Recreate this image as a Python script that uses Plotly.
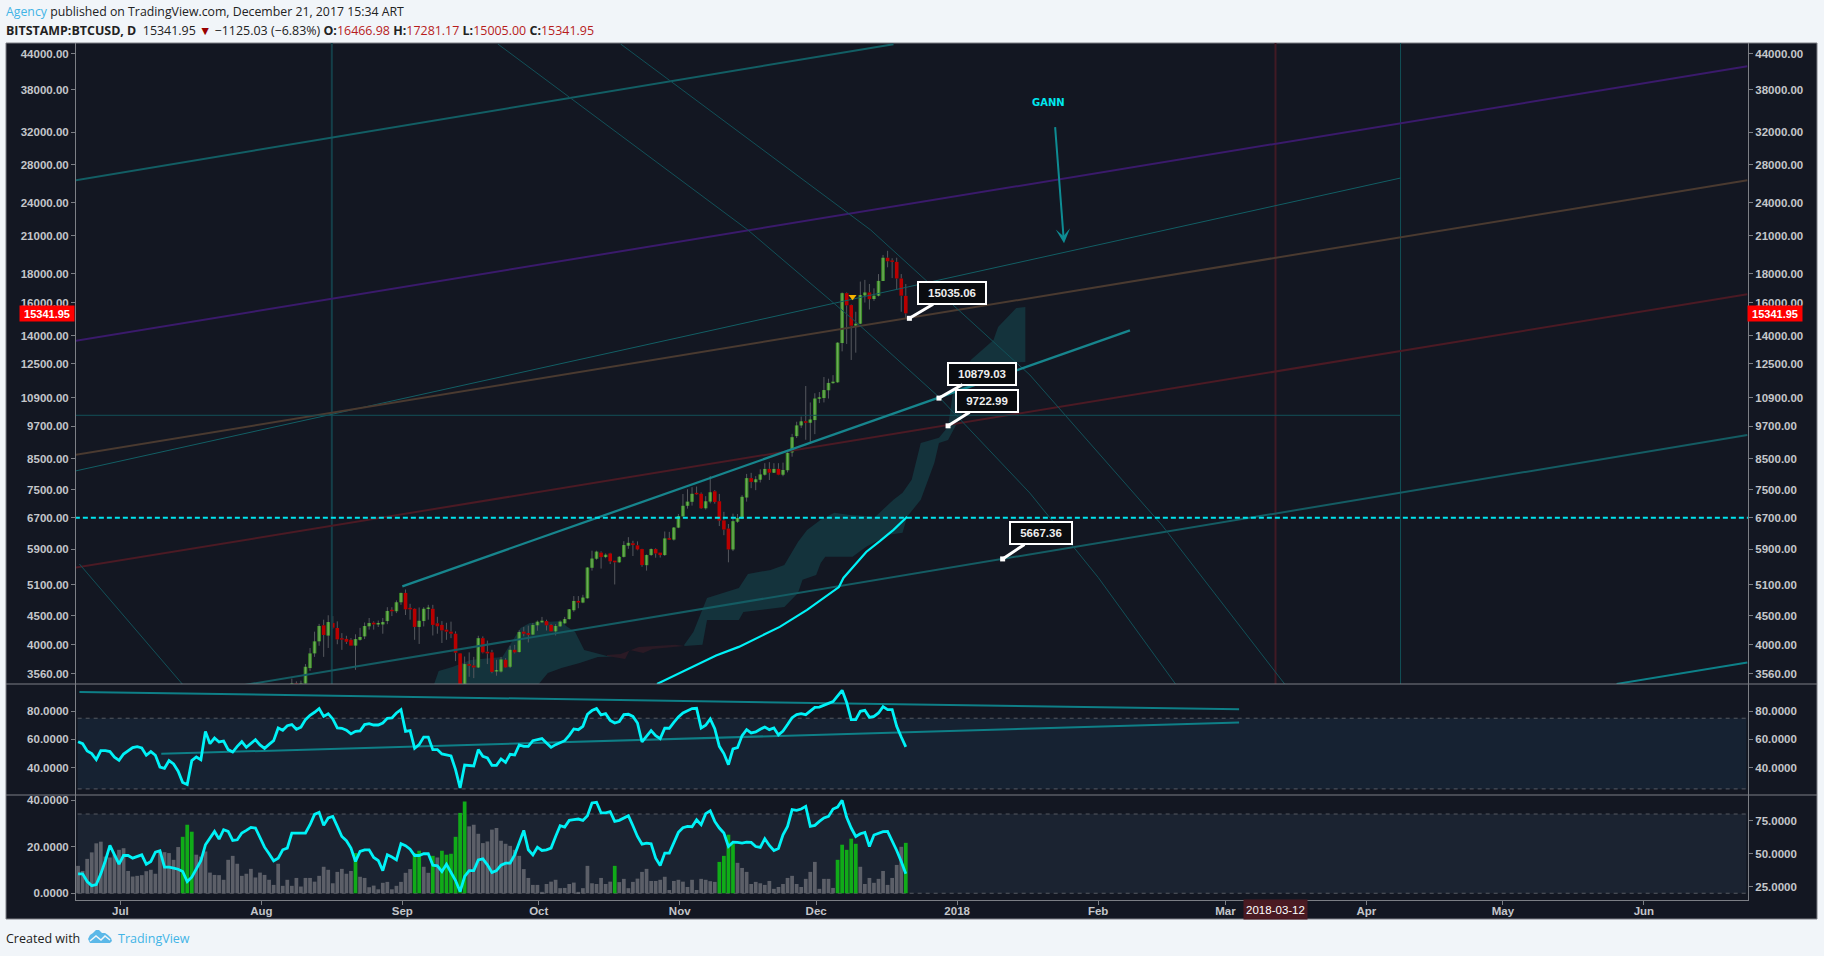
import math
import pandas as pd
import plotly.graph_objects as go

# ---------- price candles (BITSTAMP:BTCUSD daily) ----------
candle_start = "2017-08-08"
candle_open = [3300,3420,3340,3420,3640,3864,4057,4330,4153,4370,4283,4105,4098,4083,3988,4083,4140,4312,4376,4345,4346,4405,4590,4584,
 4754,4938,4630,4630,4302,4405,4625,4630,4365,4337,4254,4220,4185,3864,3230,3700,3678,3650,4110,3890,3880,3590,3590,3765,3660,3920,3885,4220,4196,4170,
 4330,4382,4405,4337,4225,4312,4365,4440,4603,4780,4748,4832,5468,5672,5814,5710,5795,5628,5590,5715,5980,6040,5988,5898,5525,5757,5898,5814,5757,6135,6130,
 6435,6735,7030,7145,7380,7380,6960,7150,7455,7160,6625,6410,5890,6590,6680,7270,7865,7735,7815,7975,8165,8040,8165,7975,8120,8730,9325,9740,9900,9845,
 9950,10850,10880,11230,11560,11600,13600,16650,15865,14590,14710,16500,16695,16260,16480,17490,19220,19000,18900,17670,16466.98]
candle_close = [3420,3340,3420,3660,3864,4057,4318,4164,4387,4288,4090,4085,4050,3988,4095,4130,4318,4370,4346,4352,4387,4590,4584,4754,
 4938,4620,4620,4302,4410,4630,4635,4337,4313,4242,4220,4185,3875,3240,3700,3675,3650,4110,3880,3864,3585,3600,3770,3650,3920,3880,4213,4185,4165,4337,
 4394,4412,4330,4225,4318,4394,4440,4620,4780,4748,4845,5473,5675,5838,5710,5765,5613,5590,5715,5995,6050,5995,5890,5530,5757,5898,5795,5757,6160,6128,6435,
 6745,7030,7150,7380,7365,6960,7160,7425,7140,6620,6385,5890,6605,6690,7290,7865,7745,7825,7985,8165,8040,8165,7975,8130,8710,9285,9740,9900,9845,9975,
 10860,10900,11240,11570,11630,13620,16650,15850,14590,14710,16520,16695,16250,16480,17500,19220,18950,18900,17670,16480,15341.95]
candle_high = [3490,3450,3460,3700,3950,4220,4355,4430,4510,4495,4400,4195,4150,4110,4175,4285,4380,4460,4400,4415,4460,4660,4660,4790,
 4945,5006,4725,4640,4655,4660,4705,4705,4482,4405,4375,4395,4225,3870,3815,3880,3810,4150,4140,4070,3920,3765,3810,3790,3985,4000,4245,4300,4325,4370,
 4415,4480,4430,4355,4350,4415,4480,4622,4875,4875,4900,5480,5860,5860,5845,5795,5810,5630,5735,6090,6190,6100,6085,5905,5770,5915,5915,5814,6335,6325,6450,
 6800,7375,7518,7580,7600,7420,7310,7928,7490,7377,6860,6530,6810,6800,7340,8000,8035,7928,8150,8355,8390,8355,8355,8375,8820,9410,9885,10095,11425,10690,
 11095,11150,11850,11770,11940,13650,16700,16700,15900,15440,17450,17570,17280,16980,17990,19440,19770,19180,19220,17990,17281.17]
candle_low = [3280,3300,3320,3400,3600,3810,3985,3810,3950,4270,4010,3920,4015,3985,3615,4070,4095,4255,4255,4300,4185,4350,4495,4550,
 4705,4515,4430,4083,4015,4310,4430,4155,4185,4030,4083,4110,3745,3150,2980,3515,3495,3640,3864,3700,3565,3530,3575,3645,3640,3864,3875,4140,4040,4160,
 4235,4370,4240,4220,4155,4300,4350,4430,4575,4640,4735,4825,5405,5650,5450,5685,5550,5110,5575,5700,5905,5735,5870,5490,5405,5735,5695,5700,5735,6122,6105,
 6420,6720,6950,7035,7350,6940,6925,7100,7090,6475,6240,5590,5850,6560,6660,7150,7550,7490,7727,7945,7805,8030,7960,7925,8050,8580,9252,9640,9190,9050,
 9400,10660,10690,10860,11540,11570,13150,13550,12700,13080,14680,16030,15580,16140,16430,17480,18490,17700,16930,15440,15005.00]

# ---------- Ichimoku-like cloud ----------
cloud_a_dates = ["2017-09-08","2017-09-09","2017-09-12","2017-09-16","2017-09-23","2017-09-25","2017-09-27","2017-09-29","2017-10-06","2017-10-07","2017-10-09","2017-10-11","2017-10-16","2017-10-19",
 "2017-10-16","2017-10-14","2017-10-10","2017-10-06","2017-10-03","2017-10-01"]
cloud_a_prices = [3414,3599,3657,3763,3809,4032,4285,4372,4408,4319,4216,3919,3824,3815,
 3805,3809,3718,3643,3570,3414]
cloud_b_dates = ["2017-11-02","2017-11-04","2017-11-07","2017-11-14","2017-11-16","2017-11-21","2017-11-24","2017-11-27","2017-11-29","2017-12-02","2017-12-05","2017-12-08","2017-12-14","2017-12-18","2017-12-20","2017-12-22","2017-12-24","2017-12-28","2017-12-30","2017-12-31","2018-01-04","2018-01-06","2018-01-09","2018-01-10","2018-01-12","2018-01-14","2018-01-16",
 "2018-01-16","2018-01-05","2018-01-03","2018-01-01","2017-12-30","2017-12-28","2017-12-27","2017-12-24","2017-12-21","2017-12-20","2017-12-17","2017-12-12","2017-12-09","2017-12-03","2017-12-02","2017-12-01","2017-11-28","2017-11-27","2017-11-24","2017-11-15","2017-11-14","2017-11-07","2017-11-06","2017-11-02"]
cloud_b_prices = [4000,4216,4839,5038,5334,5421,5532,6072,6376,6644,6835,6780,6725,7205,7413,7814,9073,9259,9682,11020,12700,13118,13772,14518,15058,15681,15745,
 12597,12545,10601,9839,9183,9073,8369,7205,6725,6300,6249,5952,5715,5715,5577,5312,5206,4938,4665,4571,4425,4425,4000,3983]
cloud_red_dates = ["2017-10-16","2017-10-19","2017-10-23","2017-10-31","2017-11-02","2017-10-26","2017-10-24","2017-10-21","2017-10-20","2017-10-16"]
cloud_red_prices = [3840,3856,3967,4000,3983,3935,3871,3919,3778,3824]

# ---------- slow moving average ----------
ma_dates = ["2017-10-27","2017-11-01","2017-11-05","2017-11-09","2017-11-14","2017-11-18","2017-11-23","2017-11-29","2017-12-03","2017-12-06","2017-12-07","2017-12-09","2017-12-12","2017-12-15","2017-12-18","2017-12-21"]
ma_prices = [3414,3570,3700,3830,3967,4110,4302,4608,4860,5057,5246,5480,5830,6090,6376,6725]

# ---------- hand-drawn trend lines ----------
top_x = ["2017-06-21","2017-12-18"];            top_y = [26307,45690]
purple_x = ["2017-06-21","2018-06-23 18:00"];   purple_y = [13718,41775]
thin_x = ["2017-06-21","2018-04-08 12:00"];     thin_y = [8092,26557]
brown_x = ["2017-06-21","2018-06-23 18:00"];    brown_y = [8641,26307]
darkred_x = ["2017-06-21","2018-06-23 18:00"];  darkred_y = [5468,16572]
bright_x = ["2017-09-01","2018-02-08"];         bright_y = [5072,14315]
low_x = ["2017-07-27","2018-06-23 18:00"];      low_y = [3385,9367]
corner_x = ["2018-05-26","2018-06-23 18:00"];   corner_y = [3414,3723]
arc_a_x = ["2017-09-22","2017-11-16","2017-12-10","2017-12-28","2018-01-17","2018-02-01","2018-02-18"]
arc_a_y = [45730,21507,14752,10926,7402,5259,3414]
arc_b_x = ["2017-10-19","2017-12-13","2018-01-17","2018-02-15","2018-03-14"]
arc_b_y = [45730,21507,11948,6503,3414]
arc_c_x = ["2017-06-22","2017-07-15"];          arc_c_y = [5552,3385]
flat_x = ["2017-06-21","2018-04-08 12:00"];     flat_y = [10147,10147]
level_x = ["2017-06-21","2018-06-23 21:00"];    level_y = [6700,6700]
vline_a = "2017-08-16 12:00"
vline_b = "2018-04-08 12:00"
vline_red = "2018-03-12"
vline_y = [3000,50000]

# ---------- callouts ----------
callout_dates = ["2017-12-21 12:00","2017-12-28","2017-12-30","2018-01-11"]
callout_prices = [15035.06,10879.03,9722.99,5667.36]
callout_text = ["15035.06","10879.03","9722.99","5667.36"]
last_price = 15341.95

# ---------- RSI pane ----------
rsi_values = [58.4,57.0,51.8,50.0,45.7,52.1,52.1,51.4,47.4,45.2,49.7,52.1,54.2,54.9,54.0,48.8,51.4,48.8,40.5,39.6,45.0,42.7,37.5,29.5,28.1,45.0,47.6,45.7,65.7,57.0,61.0,58.2,58.9,52.8,51.1,55.1,58.4,54.4,56.8,59.8,56.1,53.7,56.5,59.1,68.1,66.5,69.7,70.5,67.2,68.6,74.0,77.1,79.2,81.8,76.3,78.2,74.5,68.1,67.9,66.5,63.9,65.7,66.0,70.5,71.2,70.2,70.2,71.6,74.9,75.2,78.7,81.1,65.7,66.2,53.7,56.3,61.7,61.7,52.8,52.8,49.7,49.0,48.3,38.7,25.7,41.9,41.5,41.2,52.8,
 48.1,46.9,41.7,41.7,46.2,43.8,49.5,49.0,56.1,55.1,55.1,59.1,59.8,60.6,57.5,54.4,56.3,57.7,59.1,62.9,67.4,66.9,69.3,77.8,80.4,81.8,77.3,78.2,73.5,71.6,72.6,77.5,77.8,76.3,71.6,58.2,62.2,66.2,62.7,60.6,67.9,67.9,72.1,75.9,78.7,80.1,81.8,82.0,68.1,70.0,74.5,67.6,55.1,50.0,42.2,53.3,54.2,62.7,66.9,64.6,65.3,67.2,68.8,66.9,68.1,63.2,66.0,70.5,75.4,77.5,78.2,77.5,79.9,82.7,82.9,84.4,85.5,86.7,90.5,94.7,86.2,74.0,74.0,79.9,80.6,75.6,76.3,78.7,83.2,81.1,81.1,69.3,61.7,54.7]
rsi_line_hi_x = ["2017-06-22","2018-03-04"];  rsi_line_hi_y = [93.6,81.3]
rsi_line_lo_x = ["2017-07-10","2018-03-04"];  rsi_line_lo_y = [49.8,71.9]

# ---------- volume-style histogram and oscillator ----------
vol_values = [11.8,9.6,14.8,17.6,21.5,22.2,15.8,15.4,16.6,18.7,19.4,9.6,7.2,7.5,7.8,9.5,10.1,8.4,18.0,17.7,17.3,14.4,19.9,24.3,29.5,26.5,16.6,15.8,18.0,8.9,7.9,7.8,5.8,14.4,16.1,12.7,7.5,8.4,10.5,6.8,8.9,7.9,5.8,3.6,12.7,3.2,5.8,3.2,6.6,2.9,6.6,6.6,5.0,7.5,11.4,10.1,4.3,9.2,10.5,8.4,9.6,17.3,7.1,6.6,2.6,3.3,1.7,4.5,4.9,1.7,3.2,4.9,8.8,10.4,17.3,18.3,11.4,8.8,16.1,15.4,18.3,16.6,17.0,24.3,34.6,39.5,28.8,29.5,25.6,
 21.6,22.3,27.4,28.1,22.6,21.3,20.4,18.7,16.1,10.4,6.6,3.6,3.6,0.6,4.0,5.0,5.8,2.2,2.3,4.0,4.6,0.6,2.2,11.8,4.3,4.0,6.6,4.0,5.0,11.8,4.8,6.2,2.2,4.9,6.3,9.2,10.5,5.3,5.3,5.8,7.1,1.4,5.3,5.8,5.0,2.7,5.8,1.4,6.2,5.8,5.2,4.9,13.5,16.1,25.2,21.2,13.1,10.9,9.2,4.0,4.9,4.3,3.6,5.3,1.9,2.7,4.0,6.6,7.5,4.0,2.7,6.2,9.2,13.5,1.9,6.2,6.2,2.3,14.4,20.9,18.7,23.5,21.3,11.4,4.0,6.6,4.5,6.2,9.6,3.6,6.6,12.2,20.0,21.7]
vol_green_dates = ["2017-07-15","2017-07-16","2017-07-17","2017-08-22","2017-09-04","2017-09-05","2017-09-08","2017-09-10","2017-09-11","2017-09-12","2017-09-13","2017-09-14","2017-09-15","2017-10-18","2017-11-10","2017-11-11","2017-11-12","2017-11-13","2017-12-06","2017-12-07","2017-12-08","2017-12-09","2017-12-10","2017-12-21"]
osc_values = [34.7,34.7,28.9,25.8,26.6,34.7,44.6,56.2,49.1,42.0,48.6,48.6,46.6,47.9,49.1,42.0,44.1,51.1,52.2,39.8,39.8,39.0,38.2,36.5,28.9,32.2,38.2,44.6,56.7,61.8,66.8,61.0,68.1,66.8,60.0,60.5,65.6,67.6,69.9,69.4,62.3,54.9,49.9,44.6,46.6,52.9,54.2,65.6,65.6,65.6,65.6,71.9,79.7,81.3,71.4,77.0,78.2,70.6,63.0,59.8,54.2,44.1,51.7,52.9,52.9,47.1,44.8,37.2,49.1,47.4,45.3,57.5,56.0,53.4,48.6,48.6,49.9,49.9,41.3,40.8,36.5,42.0,36.0,29.6,21.3,32.7,37.2,37.2,45.3,
 46.1,41.5,35.7,37.2,41.3,42.8,42.8,49.1,58.0,67.6,52.9,49.1,54.9,52.4,52.9,54.2,63.0,71.1,70.1,75.2,75.7,76.2,75.2,78.7,88.4,88.9,80.8,80.8,81.8,74.4,75.2,77.0,78.7,71.1,63.0,57.2,58.0,57.5,46.6,41.0,50.4,50.4,58.0,66.1,69.6,70.6,70.4,75.7,71.9,80.3,82.5,74.4,69.4,65.6,55.4,58.7,58.5,58.0,58.7,58.5,55.4,54.7,61.3,56.2,52.4,53.9,64.3,70.6,83.3,82.8,83.8,85.8,70.6,71.4,74.4,77.0,78.2,83.8,85.3,90.4,77.5,69.4,63.0,65.1,66.1,55.4,64.1,65.6,66.6,66.8,60.0,52.4,44.1,34.7]

# ---------- axis ticks ----------
price_ticks = [44000,38000,32000,28000,24000,21000,18000,16000,14000,12500,10900,9700,8500,7500,6700,5900,5100,4500,4000,3560]
rsi_ticks = [80,60,40]
vol_ticks = [40,20,0]
osc_ticks = [75,50,25]
month_ticks = ["2017-07-01","2017-08-01","2017-09-01","2017-10-01","2017-11-01","2017-12-01","2018-01-01","2018-02-01","2018-03-01","2018-04-01","2018-05-01","2018-06-01"]
month_labels = ["Jul","Aug","Sep","Oct","Nov","Dec","2018","Feb","Mar","Apr","May","Jun"]

# ---------- layout helpers (page pixels to paper fractions) ----------
W, H = 1824, 956
def px(x): return x / W
def py(y): return 1 - y / H

LEFT, RIGHT = 76, 1748
TOP, SEP1, SEP2, BOTTOM = 43, 684, 795, 900
BG = "#131722"
AXIS = "#7c7f85"
TXT = "#c4c6ca"
AFONT = "Liberation Sans"

# bars are centred a little before the calendar tick
BAR_SHIFT = pd.Timedelta(hours=7)
fmt = "%Y-%m-%d %H:%M"
cdates = pd.date_range(candle_start, periods=len(candle_open)) - BAR_SHIFT
cx = [d.strftime(fmt) for d in cdates]
rsi_x = [d.strftime(fmt) for d in pd.date_range(end="2017-12-21", periods=len(rsi_values)) - BAR_SHIFT]
osc_x = [d.strftime(fmt) for d in pd.date_range(end="2017-12-21", periods=len(osc_values)) - BAR_SHIFT]
vol_days = pd.date_range(end="2017-12-21", periods=len(vol_values))
vol_x = [d.strftime(fmt) for d in vol_days - BAR_SHIFT]
green_set = set(vol_green_dates)
vol_colors = ["#10ab18" if d.strftime("%Y-%m-%d") in green_set else "#5c5f68" for d in vol_days]

def wick_segments():
    xs, ys = [], []
    for x, o, h, l, c in zip(cx, candle_open, candle_high, candle_low, candle_close):
        xs += [x, x, None, x, x, None]
        ys += [h, max(o, c), None, min(o, c), l, None]
    return xs, ys

def body_segments(up):
    xs, ys = [], []
    for x, o, c in zip(cx, candle_open, candle_close):
        if (c >= o) == up:
            lo, hi = min(o, c), max(o, c)
            if hi / lo < 1.006:
                hi = lo * 1.006
            xs += [x, x, None]
            ys += [lo, hi, None]
    return xs, ys

fig = go.Figure()

def line(x, y, color, width, yaxis="y2", dash=None):
    fig.add_trace(go.Scatter(x=x, y=y, mode="lines", yaxis=yaxis, hoverinfo="skip", showlegend=False,
                             line=dict(color=color, width=width, dash=dash)))

# main pane, lower layer
for dx, dy, col in [(cloud_a_dates, cloud_a_prices, "#14333c"), (cloud_b_dates, cloud_b_prices, "#14333c"), (cloud_red_dates, cloud_red_prices, "#2b1a25")]:
    fig.add_trace(go.Scatter(x=dx, y=dy, mode="lines", fill="toself", fillcolor=col, yaxis="y", hoverinfo="skip",
                             line=dict(width=0), showlegend=False))
wx, wy = wick_segments()
line(wx, wy, "#55585e", 1, "y")
ux, uy = body_segments(True)
line(ux, uy, "#3c8f27", 3.6, "y")
line(ux, uy, "#6da85a", 1.4, "y")
dx_, dy_ = body_segments(False)
line(dx_, dy_, "#b80000", 3.6, "y")

# drawings
line([vline_a, vline_a], vline_y, "#143f49", 2)
line([vline_b, vline_b], vline_y, "#125058", 1)
line([vline_red, vline_red], vline_y, "#411a24", 2)
line(top_x, top_y, "#125e64", 2)
line(purple_x, purple_y, "#3a1a6b", 2)
line(thin_x, thin_y, "#125e64", 1)
line(brown_x, brown_y, "#4a3a30", 2)
line(darkred_x, darkred_y, "#4b1a24", 2)
line(low_x, low_y, "#145c63", 2)
line(corner_x, corner_y, "#0d8189", 2)
line(arc_a_x, arc_a_y, "#125058", 1)
line(arc_b_x, arc_b_y, "#125058", 1)
line(arc_c_x, arc_c_y, "#125058", 1)
line(flat_x, flat_y, "#125058", 1)
line(bright_x, bright_y, "#17858d", 2.3)
line(level_x, level_y, "#00e5ee", 2, dash="5px,3px")
line(ma_dates, ma_prices, "#00f2f7", 2.2)
fig.add_trace(go.Scatter(x=["2017-12-09"], y=[16410], mode="markers", yaxis="y2", hoverinfo="skip", showlegend=False,
                         marker=dict(symbol="triangle-down", color="#f5b400", size=7)))
fig.add_trace(go.Scatter(x=callout_dates, y=callout_prices, mode="markers", yaxis="y2", hoverinfo="skip", showlegend=False,
                         marker=dict(symbol="square", color="#ffffff", size=5)))

# RSI pane
line(rsi_line_hi_x, rsi_line_hi_y, "#0e7f87", 2, "y4")
line(rsi_line_lo_x, rsi_line_lo_y, "#0e7f87", 2, "y4")
line(rsi_x, rsi_values, "#00f2f7", 2.8, "y4")

# histogram pane
fig.add_trace(go.Bar(x=vol_x, y=vol_values, yaxis="y5", marker=dict(color=vol_colors, line=dict(width=0)), hoverinfo="skip", showlegend=False))
line(osc_x, osc_values, "#00f2f7", 2.8, "y6")

# annotations
notes = []
off = [(42.4, -25), (42.7, -24.6), (39, -24.6), (38.4, -25.5)]
box_w = [64, 64, 58, 58]
for d, p, t, (ax, ay), bw in zip(callout_dates, callout_prices, callout_text, off, box_w):
    notes.append(dict(x=d, y=math.log10(p), xref="x", yref="y", text=f"<b>{t}</b>", showarrow=True, ax=ax, ay=ay,
                      arrowcolor="#ffffff", arrowwidth=3, arrowhead=0, standoff=0, width=bw, height=18,
                      bgcolor="#0a0c10", bordercolor="#ffffff", borderwidth=2, borderpad=1,
                      font=dict(family=AFONT, size=11.5, color="#eeeeee")))
notes.append(dict(x="2018-01-21", y=math.log10(36040), xref="x", yref="y", text="<b>GANN</b>", showarrow=False,
                  font=dict(family="DejaVu Sans", size=10, color="#00e8ee")))
notes.append(dict(x="2018-01-24 12:00", y=math.log10(20382), xref="x", yref="y", text="", showarrow=True, ax=-9, ay=-117.6,
                  arrowcolor="#0e8c93", arrowwidth=2, arrowhead=3, arrowsize=1.2, standoff=0))
for xc in [(20 + 74.5) / 2, (1748 + 1802) / 2]:
    notes.append(dict(x=px(xc), y=math.log10(last_price), xref="paper", yref="y", xanchor="center", yanchor="middle",
                      text=f"<b>{last_price:.2f}</b>", showarrow=False,
                      width=54, height=15, bgcolor="#ff0000", borderpad=0,
                      font=dict(family=AFONT, size=11, color="#ffffff")))
notes.append(dict(x=vline_red, y=py(909.5), xref="x", yref="paper", xanchor="center", yanchor="middle", text="2018-03-12",
                  showarrow=False, width=63, height=19,
                  bgcolor="#4a1a22", borderpad=0, font=dict(family=AFONT, size=11.5, color="#ffffff")))
HF = "Open Sans"
def page_text(x, y, text, size, color):
    notes.append(dict(x=px(x), y=py(y), xref="paper", yref="paper", xanchor="left", yanchor="middle", showarrow=False,
                      align="left", text=text, borderpad=0, font=dict(family=HF, size=size, color=color)))
page_text(5, 11.7, '<span style="color:#41b4e6">Agency</span> published on TradingView.com, December 21, 2017 15:34 ART', 12.3, "#222222")
red = "#b71c1c"
page_text(5, 30, (f'<b>BITSTAMP:BTCUSD, D</b>  15341.95 <span style="color:#990000">▼</span> −1125.03 (−6.83%) '
                  f'<b>O:</b><span style="color:{red}">16466.98</span> <b>H:</b><span style="color:{red}">17281.17</span> '
                  f'<b>L:</b><span style="color:{red}">15005.00</span> <b>C:</b><span style="color:{red}">15341.95</span>'), 12.45, "#222222")
page_text(5, 938, "Created with", 12.5, "#222222")
page_text(117, 938, "TradingView", 12.5, "#41b4e6")

def poly(points, close=True):
    s = "M " + " L ".join(f"{px(a):.5f},{py(b):.5f}" for a, b in points)
    return s + (" Z" if close else "")

shapes = [
    dict(type="rect", xref="paper", yref="paper", x0=px(6), x1=px(1817), y0=py(43), y1=py(919), fillcolor=BG,
         line=dict(color="#7c7f85", width=1), layer="below"),
    dict(type="rect", xref="x domain", yref="y3", x0=0.001, x1=0.999, y0=25, y1=75, fillcolor="#162232", line=dict(width=0), layer="below"),
    dict(type="rect", xref="x domain", yref="y6", x0=0.001, x1=0.999, y0=20, y1=80, fillcolor="#1b2331", line=dict(width=0), layer="below"),
]
for yr, v in [("y3", 25), ("y3", 75), ("y6", 20), ("y6", 80)]:
    shapes.append(dict(type="line", xref="x domain", yref=yr, x0=0.001, x1=0.999, y0=v, y1=v, layer="below",
                       line=dict(color="#565a62", width=1, dash="4px,4px")))
for yy in (SEP1, SEP2):
    shapes.append(dict(type="line", xref="paper", yref="paper", x0=px(6), x1=px(1817), y0=py(yy), y1=py(yy),
                       line=dict(color=AXIS, width=1)))
shapes.append(dict(type="line", xref="x", yref="paper", x0=vline_red, x1=vline_red, y0=py(900), y1=py(904), line=dict(color="#ffffff", width=1)))
shapes.append(dict(type="path", xref="paper", yref="paper", layer="above", fillcolor="#5bb8e8", line=dict(width=0),
                   path=poly([(88,939),(90,935),(93,933),(96,930),(99,930),(102,933),(105,933),(108,935),(111,938),(112,941),(110,943),(90,943)])))
shapes.append(dict(type="path", xref="paper", yref="paper", layer="above", line=dict(color="#f1f5f9", width=1.5),
                   path=poly([(90,941),(96,936),(101,940),(105,936),(110,940)], close=False)))

def yax(domain, rng, ticks, side, fmtd, **kw):
    d = dict(domain=[py(domain[1]), py(domain[0])], range=rng, side=side, tickmode="array", tickvals=ticks,
             ticktext=[f"{t:.{fmtd}f}" for t in ticks], ticks="outside", ticklen=4, tickcolor=AXIS, showline=True,
             linecolor=AXIS, linewidth=1, showgrid=False, zeroline=False, fixedrange=True,
             tickfont=dict(family=AFONT, size=11.5, color=TXT, weight="bold"))
    d.update(kw)
    return d

price_range = sorted([math.log10(44000) + 10.5 / 246.6 / math.log(10), math.log10(3560) - 10.4 / 246.6 / math.log(10)])
rsi_range = [20.7, 99.2]
vol_range = [-2.9, 42.3]
osc_range = [14.9, 94.4]

fig.update_layout(
    width=W, height=H, margin=dict(l=0, r=0, t=0, b=0), paper_bgcolor="#f1f5f9", plot_bgcolor="rgba(0,0,0,0)",
    showlegend=False, bargap=0.18, shapes=shapes, annotations=notes, hovermode=False,
    xaxis=dict(domain=[px(LEFT), px(RIGHT)], type="date", range=["2017-06-21 06:00", "2018-06-23 21:30"], anchor="y5",
               tickmode="array", tickvals=month_ticks, ticktext=month_labels, ticks="outside", ticklen=4, tickcolor=AXIS,
               ticklabelstandoff=-4,
               showline=True, linecolor=AXIS, linewidth=1, showgrid=False, zeroline=False, fixedrange=True,
               tickfont=dict(family=AFONT, size=11.5, color=TXT, weight="bold")),
    yaxis=yax((TOP, SEP1), price_range, price_ticks, "left", 2, type="log"),
    yaxis2=yax((TOP, SEP1), price_range, price_ticks, "right", 2, type="log", overlaying="y", anchor="x"),
    yaxis3=yax((SEP1, SEP2), rsi_range, rsi_ticks, "left", 4),
    yaxis4=yax((SEP1, SEP2), rsi_range, rsi_ticks, "right", 4, overlaying="y3", anchor="x"),
    yaxis5=yax((SEP2, BOTTOM), vol_range, vol_ticks, "left", 4),
    yaxis6=yax((SEP2, BOTTOM), osc_range, osc_ticks, "right", 4, overlaying="y5", anchor="x"),
)
# keep a trace on the RSI left axis so that it is drawn
line(rsi_x[:1], rsi_values[:1], "rgba(0,0,0,0)", 1, "y3")

fig.write_html("out.html", config=dict(displayModeBar=False), post_script="document.body.style.margin='0';document.body.style.background='#f1f5f9';")
